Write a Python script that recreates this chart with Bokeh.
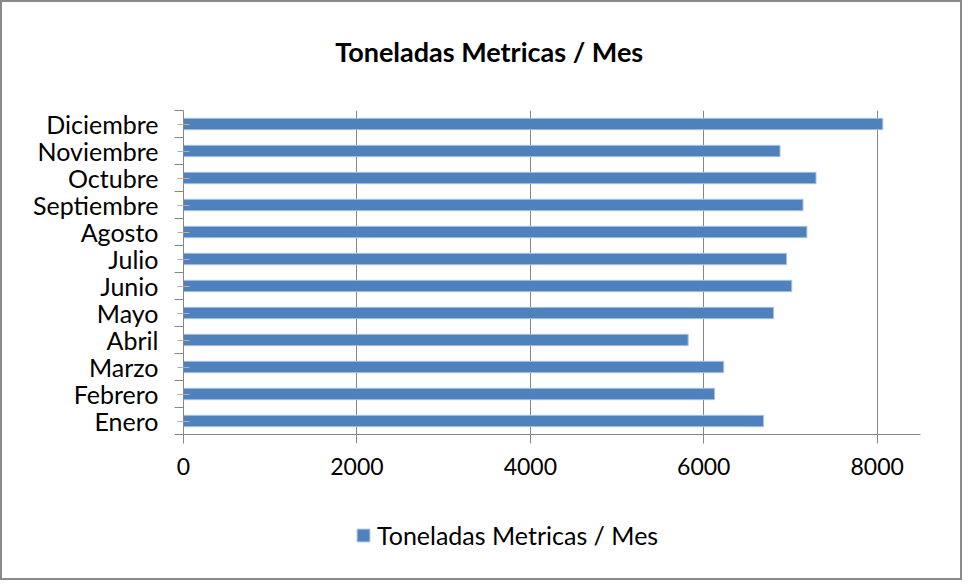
import numpy as np
from bokeh.plotting import figure
from bokeh.layouts import column
from bokeh.models import (Range1d, FixedTicker, LinearAxis, Legend, LegendItem, Label)
from bokeh.embed import file_html
from bokeh.resources import INLINE

months = ["Enero", "Febrero", "Marzo", "Abril", "Mayo", "Junio", "Julio",
          "Agosto", "Septiembre", "Octubre", "Noviembre", "Diciembre"]
toneladas = [6690, 6125, 6230, 5820, 6805, 7015, 6955, 7190, 7145, 7295, 6880, 8065]
x_ticks = [0, 2000, 4000, 6000, 8000]
title_text = "Toneladas Metricas / Mes"

FONT = "Lato"
GREY = "#868686"
BAR = "#4F81BD"
W = 958
LEFT, RIGHT = 181, 40   # plot-area borders shared by the stacked strips


def strip(h):
    f = figure(width=W, height=h, output_backend="svg", toolbar_location=None,
               x_range=Range1d(LEFT, W - RIGHT), y_range=Range1d(0, h),
               min_border=0, x_axis_location=None, y_axis_location=None)
    f.outline_line_color = None
    f.xgrid.visible = False
    f.ygrid.visible = False
    f.background_fill_color = "white"
    f.border_fill_color = "white"
    return f


# ---- title strip
pt = strip(98)
pt.add_layout(Label(x=486.7, y=49.4, text=title_text, text_font=FONT,
                    text_font_size="27px", text_font_style="bold",
                    text_align="center", text_baseline="alphabetic",
                    text_color="#000000"))

# ---- main chart
p = figure(width=W, height=392, output_backend="svg", toolbar_location=None,
           x_range=Range1d(0, 8500), y_range=Range1d(0, len(months)),
           min_border_left=LEFT, min_border_right=RIGHT, min_border_top=10,
           min_border_bottom=58, x_axis_location=None, y_axis_location=None)
p.outline_line_color = None
p.background_fill_color = "white"
p.border_fill_color = "white"

pos = np.arange(len(months)) + 0.5
r = p.hbar(y=pos, right=toneladas, left=0, height=0.42,
           fill_color=BAR, line_color="#A9C1DE", line_width=1)

xa = LinearAxis(ticker=FixedTicker(ticks=x_ticks))
xa.axis_line_color = GREY
xa.major_tick_line_color = GREY
xa.major_tick_out = 9
xa.major_tick_in = 0
xa.minor_tick_line_color = None
xa.major_label_text_font = FONT
xa.major_label_text_font_size = "23px"
xa.major_label_text_color = "#000000"
xa.major_label_standoff = 14
p.add_layout(xa, "below")

ya = LinearAxis(ticker=FixedTicker(ticks=list(pos), minor_ticks=list(range(len(months) + 1))))
ya.major_label_overrides = {float(v): m for v, m in zip(pos, months)}
ya.axis_line_color = GREY
ya.major_tick_line_color = "#b0b0b0"
ya.major_tick_out = 6
ya.major_tick_in = 6
ya.minor_tick_line_color = GREY
ya.minor_tick_out = 9
ya.minor_tick_in = 0
ya.major_label_text_font = FONT
ya.major_label_text_font_size = "25px"
ya.major_label_text_color = "#000000"
ya.major_label_standoff = 16
p.add_layout(ya, "left")

p.xgrid.ticker = FixedTicker(ticks=x_ticks[1:])
p.xgrid.grid_line_color = GREY
p.ygrid.grid_line_color = None

# ---- legend strip (series drawn hidden, only used for its legend swatch)
pl = strip(86)
rl = pl.hbar(y=pos, right=toneladas, left=0, height=0.42,
             fill_color=BAR, line_color="#A9C1DE", line_width=1, visible=False)
legend = Legend(items=[LegendItem(label=title_text, renderers=[rl])],
                location=(172, 28), orientation="horizontal")
legend.border_line_color = None
legend.background_fill_alpha = 0
legend.inactive_fill_alpha = 0
legend.padding = 0
legend.margin = 0
legend.spacing = 0
legend.glyph_width = 16
legend.glyph_height = 16
legend.label_height = 16
legend.label_standoff = 6
legend.label_text_font = FONT
legend.label_text_font_size = "25px"
legend.label_text_color = "#000000"
pl.add_layout(legend, "center")

layout = column(pt, p, pl, spacing=0,
                styles={"border": "2px solid #8a8a8a"})
open("out.html", "w").write(file_html(layout, INLINE))
